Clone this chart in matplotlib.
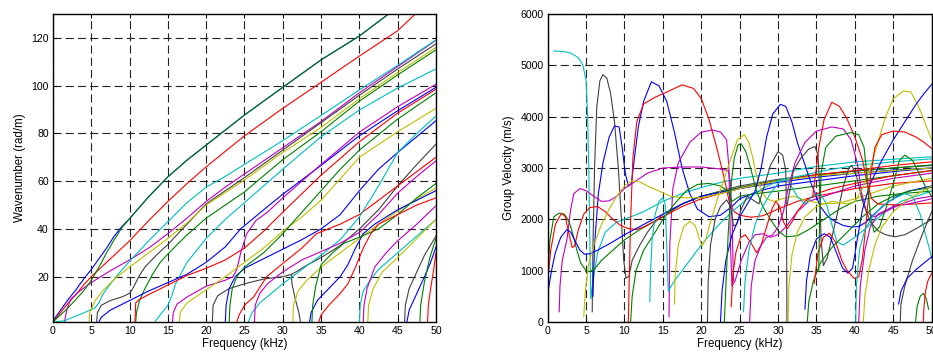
import numpy as np
import matplotlib
matplotlib.use("Agg")
from matplotlib import pyplot as plt

plt.rcParams['font.family'] = ['Liberation Sans', 'DejaVu Sans']
plt.rcParams['lines.scale_dashes'] = False

# colours of the curves (matlab-like)
C_BLUE, C_GREEN, C_RED = '#0000ff', '#008000', '#ff0000'
C_CYAN, C_MAG, C_YEL, C_GRAY = '#00bfbf', '#bf00bf', '#bfbf00', '#404040'

freq_ticks = [0, 5, 10, 15, 20, 25, 30, 35, 40, 45, 50]
k_ticks = [20, 40, 60, 80, 100, 120]
v_ticks = [0, 1000, 2000, 3000, 4000, 5000, 6000]

# ---- wavenumber curves (kHz, rad/m) ----
k_blue_1 = [(0, 1.5), (1, 6), (2, 10.5), (3, 14.5), (4, 19), (5, 23), (6, 27.5), (7, 32), (8, 37), (9, 41),
            (10, 44.3), (12.5, 53.5), (15, 61.8), (17.5, 68.8), (20, 75.1), (25, 87.7), (30, 99.3),
            (35, 110.8), (40, 120.8), (43.8, 130)]
k_green_1 = [(0, 1), (2, 7), (4, 14), (5, 18.5), (6, 24), (7, 30), (8, 35.5), (9, 40.5), (10, 44.3),
             (12.5, 53.5), (15, 61.8), (17.5, 68.8), (20, 75.1), (25, 87.7), (30, 99.3), (35, 110.8),
             (40, 120.8), (43.8, 130)]
k_red_1 = [(0, 1), (1, 5), (2, 9), (3, 12.5), (4, 16.5), (5, 20), (7, 26), (10, 35), (12.5, 43.5), (15, 51.5),
           (17.5, 59), (20, 66), (25, 79), (30, 90.5), (35, 101.4), (40, 112.4), (45, 123), (47.3, 130)]
k_mag_1 = [(1.5, 1), (1.8, 6), (2.3, 10.5), (3.5, 14), (5, 17.5), (7.5, 22.5), (10, 27), (12.5, 32), (15, 38),
           (17.5, 44.5), (20, 51.5), (22.5, 57.5), (25, 63), (30, 74), (35, 85), (40, 97), (45, 108), (50, 119)]
k_cyan_1 = [(0, 1), (1.5, 1.5), (3, 3.5), (4.5, 5.5), (5.5, 7), (6, 9), (6.5, 12.5), (7.5, 17), (8.5, 21),
            (10, 26.5), (12.5, 35), (15, 43), (17.5, 51), (20, 57.5), (22.5, 62), (25, 67), (30, 77),
            (35, 87.5), (40, 98.2), (45, 108.5), (50, 119.2)]
k_gray_1 = [(5.7, 1), (5.8, 5), (6.3, 8), (7.5, 10), (9, 11.5), (10, 13), (10.5, 15.5), (11.2, 20), (12, 24),
            (13.5, 29), (15, 33.5), (17.5, 42), (20, 50.5), (22.5, 56), (25, 61.5), (30, 73), (35, 84.5),
            (40, 96), (45, 107), (50, 117.5)]
k_yel_1 = [(4.7, 1), (4.8, 5), (5.5, 10), (6.5, 14), (8, 19), (10, 24), (12.5, 30), (15, 36), (17.5, 42.5),
           (20, 50), (25, 60.5), (30, 72), (35, 82.5), (40, 94.5), (45, 105.5), (50, 116)]
k_green_2 = [(10.8, 1), (10.9, 5), (11.3, 10), (12, 15), (13, 21), (14, 26), (15, 29.5), (17.5, 37.5),
             (20, 44.5), (22.5, 50), (25, 55.5), (30, 69), (35, 80.7), (40, 93.5), (45, 104.5), (50, 115)]
k_cyan_2 = [(13.3, 1), (14, 4), (15, 8), (15.5, 12), (16, 17), (16.5, 20), (17.5, 26), (20, 36), (22.5, 44),
            (25, 51), (30, 65), (35, 78.6), (40, 89.8), (45, 99), (50, 107)]
k_blue_2 = [(6, 1), (6.3, 3), (7.5, 6), (10, 10), (12.5, 14), (15, 17.5), (17.5, 21), (20, 26), (22.5, 32.5),
            (24.5, 40), (27.5, 48), (30, 54.5), (35, 66.6), (40, 79), (45, 89.5), (50, 99.3)]
k_red_2 = [(10.7, 1), (10.8, 9), (11.3, 10.5), (12.5, 12.5), (15, 16.5), (17.5, 20.5), (20, 23.5), (22.5, 27),
           (25, 32), (27.5, 39), (30, 47), (35, 62.5), (40, 76.5), (45, 88.5), (50, 98.5)]
k_mag_2 = [(15.6, 1), (15.7, 5), (16.2, 8.5), (17.5, 11.5), (20, 16), (22.5, 18.5), (23.5, 20), (24, 23),
           (24.5, 30), (25.3, 38), (26.5, 43.5), (28, 47), (30, 53), (35, 67), (40, 80.5), (45, 91.2), (50, 100.6)]
k_yel_2 = [(16.5, 1), (16.6, 5), (17.5, 9), (20, 14.5), (22.5, 20), (25, 26), (27.5, 32), (30, 39),
           (32.5, 45), (35, 52), (40, 70), (45, 80.7), (50, 90.5)]
k_gray_2 = [(20.8, 1), (20.9, 8), (21.5, 12), (23, 15), (25, 17), (27.5, 19), (30, 20), (31.2, 21), (33, 24.5),
            (35, 28), (37.5, 33), (40, 40), (42.5, 48), (45, 58), (47.5, 67), (50, 75.5)]
k_gray_3 = [(32.3, 1), (32.1, 5), (31.6, 11), (31.2, 17), (31.1, 21)]
k_blue_3 = [(22.5, 1), (22.6, 8), (23, 15), (23.8, 20), (25, 23.5), (27.5, 27.5), (30, 31.5), (32.5, 35.5),
            (35, 40), (37.5, 46), (40, 56), (42.5, 65), (45, 72), (50, 85.3)]
k_green_3 = [(23, 1), (23.1, 8), (23.4, 15), (24, 20), (25, 24), (27.5, 30), (30, 38), (32.5, 47), (35, 56),
             (37.5, 65), (40, 73), (45, 86), (50, 97)]
k_red_3 = [(24, 1), (24.3, 4), (25, 8), (26.2, 11.5), (27.9, 20), (30, 25.5), (32.5, 32), (34.4, 38),
           (37.5, 42), (40, 46), (42.5, 52), (45, 58), (47.5, 64), (50, 70)]
k_cyan_3 = [(25.5, 1), (26, 5), (27, 9), (28.5, 13), (30, 17), (32.5, 23), (35, 29), (37.5, 35.5), (40, 45),
            (42.5, 58), (45, 72), (47.5, 80), (50, 87.3)]
k_mag_3 = [(26.3, 1), (26.4, 8), (27, 13), (28, 17), (30, 22), (32.5, 27), (35, 30.5), (37.5, 34), (40, 38.5),
           (42.5, 46), (45, 55), (47.5, 62), (50, 68.5)]
k_yel_3 = [(31.3, 1), (31.4, 8), (32, 14), (33, 18), (35, 24), (37.5, 30), (40, 36), (42.5, 42), (45, 47.5),
           (47.5, 52.5), (50, 57)]
k_blue_4 = [(33.5, 1), (33.7, 5), (34.5, 10), (36, 15), (37.5, 20), (38.5, 25), (39.5, 32), (40.5, 38),
            (42, 42), (45, 48), (47.5, 52), (50, 56)]
k_green_4 = [(33.8, 1), (33.9, 8), (34.3, 16), (35, 25), (36.5, 30), (38, 34), (40, 36.5), (42.5, 40),
             (45, 46), (47.5, 53), (50, 59)]
k_red_4 = [(34.7, 1), (35, 4), (36, 8), (37.5, 13), (38.5, 17), (39.5, 24), (40.5, 32), (41.5, 38), (42.5, 42),
           (45, 46), (47.5, 50), (50, 53)]
k_cyan_4 = [(40, 1), (40.1, 8), (40.5, 14), (41.5, 19), (42.5, 23), (45, 30), (47.5, 37), (50, 44)]
k_mag_4 = [(40.5, 1), (40.6, 8), (41, 15), (42, 24), (43.5, 30), (45, 35), (47.5, 42), (50, 49.7)]
k_yel_4 = [(41.1, 1), (41.2, 8), (41.8, 15), (43, 22), (45, 28), (47.5, 36), (50, 44)]
k_gray_4 = [(45.9, 1), (46, 8), (46.5, 15), (47.5, 22), (48.5, 29), (50, 37)]
k_blue_5 = [(46.2, 1), (46.5, 6), (47.5, 13), (48.5, 20), (49.3, 26), (50, 32.4)]
k_green_5 = [(47.9, 1), (48, 8), (48.5, 18), (49.2, 28), (50, 36)]
k_red_5 = [(48.9, 1), (49, 8), (49.3, 15), (49.7, 23), (50, 30)]

# ---- group velocity curves (kHz, m/s) ----
v_cyan_1 = [(0.8, 5280), (2, 5270), (3, 5240), (4, 5150), (4.6, 5000), (5.0, 4700), (5.2, 4000), (5.35, 3000),
            (5.45, 2000), (5.55, 1000), (5.62, 450), (5.9, 800), (6.5, 1350), (7.5, 1750), (9, 1950),
            (10, 2000), (12.5, 2150), (15, 2350), (17.5, 2500), (20, 2620), (22.5, 2720), (25, 2800),
            (30, 2900), (35, 3030), (40, 3120), (45, 3170), (50, 3220)]
v_gray_1 = [(5.8, 200), (5.9, 1500), (6.1, 3000), (6.4, 4200), (6.8, 4700), (7.2, 4820), (7.7, 4750),
            (8.2, 4450), (8.7, 3900), (9.2, 3000), (9.6, 2000), (9.9, 1200), (10.2, 850), (10.6, 900),
            (11, 1200), (12, 1500), (13, 1750), (14, 1950), (15, 2100), (17.5, 2300), (20, 2450), (25, 2650),
            (30, 2780), (35, 2870), (40, 2940), (45, 3000), (50, 3050)]
v_blue_1 = [(5.9, 500), (6.1, 1500), (6.6, 2500), (7.2, 3100), (8, 3600), (8.7, 3820), (9.3, 3800),
            (9.7, 3400), (10.1, 2900), (10.5, 2650), (10.9, 2700), (11.3, 3200), (11.8, 3800), (12.5, 4300),
            (13.5, 4680), (14.5, 4600), (15.5, 4300), (16.5, 3700), (17.5, 3000), (18.5, 2500), (19.5, 2200),
            (21, 2050), (22.5, 2080), (24, 2250), (25, 2400), (27.5, 2550), (30, 2650), (35, 2750),
            (40, 2850), (45, 2930), (50, 3000)]
v_red_1 = [(10.5, 0), (10.6, 700), (10.8, 2000), (11.1, 3200), (11.6, 3900), (12.5, 4250), (14, 4380),
           (15.5, 4480), (17.5, 4620), (19, 4550), (20, 4350), (21, 3950), (22, 3400), (23, 2800),
           (23.7, 2300), (24.3, 2150), (25, 2080), (26.5, 2040), (28, 2070), (30, 2200), (32.5, 2350),
           (35, 2450), (40, 2600), (45, 2700), (50, 2750)]
v_mag_1 = [(15.8, 100), (15.9, 1500), (16.3, 2600), (17, 3100), (18.5, 3500), (20, 3700), (21.5, 3740),
           (22.5, 3700), (23.3, 3550), (23.6, 3000), (23.8, 1500), (24, 700), (24.4, 800), (25.2, 1200),
           (26.2, 1550), (27, 1700), (28, 1720), (29, 1650), (30, 1700), (31, 1850), (32.5, 2150), (34, 2350),
           (36, 2450), (38, 2550), (40, 2650), (45, 2800), (50, 2900)]
v_mag_2 = [(1.5, 200), (1.6, 700), (1.9, 1200), (2.5, 1600), (3, 2200), (3.4, 2500), (4.2, 2600), (5, 2560),
           (6, 2450), (7, 2350), (8, 2360), (9, 2450), (10, 2600), (11.5, 2750), (13, 2900), (15, 3000),
           (17.5, 3020), (20, 3020), (22.5, 2980), (23.5, 2950), (23.8, 2700), (24, 2100), (24.1, 1400),
           (24.2, 800)]
v_green_1 = [(0, 900), (0.3, 1600), (0.8, 2050), (1.5, 2120), (2.2, 2100), (2.8, 1950), (3.3, 1700),
             (3.8, 1400), (4.3, 1150), (5, 1000), (5.5, 980), (6.2, 1050), (7, 1200), (8.5, 1400), (10, 1600),
             (12, 1800), (15, 2050), (17.5, 2300), (20, 2450), (25, 2620), (30, 2760), (35, 2860), (40, 2940),
             (45, 3000), (50, 3060)]
v_red_2 = [(0, 800), (0.4, 1400), (1, 1900), (1.8, 2120), (2.3, 2050), (2.8, 1700), (3.2, 1450), (3.5, 1480),
           (4, 1800), (4.7, 2100), (5.5, 2230), (6.5, 2250), (7.5, 2150), (8.5, 2000), (9.5, 1880),
           (10.5, 1820), (11.5, 1800), (12.5, 1850), (15, 2050), (17.5, 2250), (20, 2400), (25, 2600),
           (30, 2750), (35, 2870), (40, 2950), (45, 3050), (50, 3120)]
v_blue_2 = [(0, 550), (0.5, 1000), (1, 1350), (1.7, 1650), (2.5, 1800), (3, 1750), (3.5, 1600), (4.2, 1400),
            (4.8, 1320), (5.5, 1330), (6.5, 1400), (8, 1520), (10, 1700), (12.5, 1900), (15, 2100),
            (17.5, 2300), (20, 2450), (25, 2600), (30, 2720), (35, 2820), (40, 2900), (45, 2960), (50, 3000)]
v_yel_1 = [(4.7, 100), (4.9, 600), (5.3, 1100), (6, 1500), (7, 1900), (8, 2200), (9, 2450), (10, 2650),
           (11, 2750), (12, 2730), (13, 2650), (14.5, 2550), (16, 2450), (17.5, 2420), (20, 2420), (22.5, 2500),
           (25, 2600), (30, 2750), (35, 2850), (40, 2900), (45, 2950), (50, 3000)]
v_green_2 = [(10.8, 0), (11, 500), (11.5, 1000), (12.5, 1400), (14, 1750), (15, 2000), (16.5, 2300),
             (18, 2550), (19.5, 2680), (21, 2700), (22.5, 2650), (23.5, 2550), (24, 2350), (25, 2450),
             (27, 2500), (30, 2550), (35, 2650), (40, 2750), (45, 2850), (50, 2950)]
v_cyan_2 = [(13.3, 400), (13.4, 1000), (13.6, 1600), (14, 2100), (14.5, 2350), (15, 2420), (15.3, 2300),
            (15.5, 1500), (15.7, 600), (16.5, 800), (18, 1100), (20, 1500), (22, 1850), (24, 2150),
            (26, 2400), (28, 2600), (30, 2750), (33, 2850), (36, 2950), (40, 3050), (45, 3120), (50, 3180)]
v_yel_2 = [(16.5, 350), (16.6, 900), (17, 1500), (17.7, 1850), (18.5, 1960), (19.2, 1880), (19.7, 1650),
           (20.1, 1480), (20.6, 1620), (21.2, 1950), (22, 2350), (23, 2800), (24, 3250), (24.7, 3550),
           (25.6, 3650), (26.2, 3500), (26.7, 3200), (27.2, 2850), (27.8, 2550), (28.5, 2400), (29.5, 2350),
           (30.5, 2400), (32, 2450), (34, 2350), (36, 2300), (38, 2320), (40, 2400), (42, 2500), (45, 2650),
           (50, 2800)]
v_gray_2 = [(20.8, 0), (20.9, 800), (21.2, 1500), (21.8, 2000), (22.5, 2250), (23.3, 2380), (23.8, 2250),
            (24.2, 1870), (24.6, 1900), (25.2, 2200), (26, 2450), (27, 2350), (27.5, 2300), (28.2, 2650),
            (29, 3050), (30, 3320), (30.6, 3250), (31, 2950), (31.1, 2000), (31.15, 0)]
v_blue_3 = [(22.5, 0), (22.7, 600), (23.2, 1200), (24, 1700), (25, 2050), (26, 2300), (27, 2550), (27.8, 3000),
            (28.5, 3600), (29.3, 4050), (30.3, 4240), (31, 4200), (31.8, 3900), (32.5, 3500), (33.3, 3150),
            (34.3, 2700), (35.5, 2250), (36.5, 2050), (37.5, 1950), (38.5, 1880), (39.5, 1850), (40.5, 1860),
            (41.5, 1950), (42.5, 2100), (44, 2300), (45.5, 2450), (47, 2550), (50, 2650)]
v_green_3 = [(23, 0), (23.2, 700), (23.5, 1700), (23.9, 2700), (24.3, 3200), (24.8, 3450), (25.2, 3470),
             (25.8, 3320), (26.5, 2950), (27.2, 2550), (28, 2250), (29, 2000), (30, 1780), (31, 1660),
             (32.5, 1680), (34, 1800), (36, 2000), (38, 2200), (40, 2350), (43, 2450), (46, 2500), (50, 2550)]
v_red_3 = [(23.9, 300), (24.1, 900), (24.5, 1350), (25.1, 1640), (25.7, 1700), (26.4, 1560), (27.2, 1350),
           (27.8, 1500), (28.5, 1850), (29.2, 2200), (29.7, 2350), (30.2, 2250), (30.7, 1950), (31.2, 1820),
           (31.8, 1950), (32.5, 2150), (33.5, 2350), (35, 2500), (37, 2600), (40, 2700), (45, 2850), (50, 2950)]
v_cyan_3 = [(25.5, 200), (25.7, 800), (26.2, 1400), (27, 1900), (28, 2250), (29, 2500), (30, 2700),
            (30.8, 2800), (31.5, 2700), (32.5, 2450), (33.5, 2300), (34.5, 2450), (35.5, 2500), (36.3, 2300),
            (37, 1900), (37.7, 1550), (38.5, 1500), (40, 1650), (42, 1900), (44, 2150), (46, 2350), (48, 2450),
            (50, 2550)]
v_mag_3 = [(26.3, 0), (26.5, 700), (27, 1200), (27.8, 1500), (28.5, 1650), (29.3, 1700), (30, 1850),
           (30.7, 2150), (31.3, 2600), (32.2, 3100), (33.5, 3500), (35, 3720), (37, 3800), (38.5, 3760),
           (39.5, 3550), (40.3, 3100), (40.9, 2500), (41.5, 2150), (42.5, 2050), (44, 2150), (46, 2300),
           (48, 2400), (50, 2450)]
v_gray_3 = [(31.2, 2300), (32, 2950), (33, 3200), (34, 3370), (34.8, 3420), (35.2, 3250), (35.4, 2600),
            (35.6, 1600), (35.9, 1100), (36.4, 1250), (37, 1650), (37.7, 2100), (38.5, 2650), (39.2, 3000),
            (39.6, 3050), (40.2, 2850), (41, 2350), (42, 1950), (43, 1780), (44, 1700), (45.2, 1660),
            (46.5, 1700), (48, 1820), (50, 2000)]
v_yel_3 = [(31.3, 0), (31.4, 700), (31.8, 1300), (32.5, 1750), (33.5, 2050), (35, 2250), (37, 2350),
           (39, 2300), (40, 2350), (41, 2600), (42, 3000), (43, 3500), (44, 4000), (45, 4350), (46.3, 4500),
           (47.3, 4480), (48.3, 4200), (49.2, 3850), (50, 3550)]
v_blue_4 = [(33.5, 250), (33.7, 800), (34.2, 1300), (35, 1620), (36, 1720), (36.8, 1650), (37.6, 1350),
            (38.4, 1050), (39.1, 950), (39.7, 1050), (40.3, 1600), (41, 2200), (42, 2700), (43.5, 3150),
            (45, 3550), (46.5, 3900), (48, 4250), (49, 4450), (50, 4630)]
v_green_4 = [(33.8, 0), (34, 400), (34.6, 800), (35.5, 1150), (37, 1450), (39, 1750), (41, 2050), (43, 2300),
             (45, 2450), (47, 2550), (50, 2620)]
v_red_4 = [(34.7, 750), (35.2, 1350), (35.9, 1650), (36.7, 1730), (37.5, 1550), (38.3, 1200), (39, 1000),
           (39.9, 850), (40.5, 880), (41, 1250), (41.5, 2000), (42, 2800), (42.6, 3400), (43.5, 3650),
           (45, 3720), (46.5, 3700), (48, 3600), (49, 3500), (50, 3380)]
v_red_5 = [(34.5, 2450), (34.9, 2900), (35.3, 3400), (36, 3950), (37, 4280), (38, 4200), (39, 3950),
           (40, 3600), (41, 3150), (41.6, 2700), (42.2, 2400), (43, 2300), (45, 2280), (48, 2300), (50, 2320)]
v_green_5 = [(35.3, 1000), (35.4, 2000), (35.6, 2900), (36.2, 3400), (37.5, 3620), (39.5, 3690), (40.5, 3650),
             (41.2, 3400), (41.6, 2800), (42, 2100), (42.5, 1750), (43.2, 1850), (44, 2200), (45, 2700),
             (45.8, 3150), (46.5, 3250), (47.5, 3150), (48.5, 2850), (49.3, 2600), (50, 2450)]
v_cyan_4 = [(40.1, 0), (40.2, 700), (40.6, 1400), (41.3, 1800), (42.3, 2050), (43.5, 2250), (45, 2400),
            (46.5, 2500), (47.5, 2450), (48.5, 2100), (49.3, 1650), (50, 1250)]
v_mag_4 = [(40.5, 0), (40.7, 700), (41.3, 1400), (42, 1850), (43, 2100), (45, 2250), (47, 2300), (50, 2400)]
v_yel_4 = [(41.1, 0), (41.3, 500), (41.8, 1000), (42.6, 1500), (43.5, 1850), (45, 2150), (47, 2400), (50, 2650)]
v_gray_4 = [(45.9, 0), (46, 350), (46.5, 700), (47.5, 1200), (48.5, 1600), (49.3, 1900), (50, 2150)]
v_blue_5 = [(45.7, 350), (46, 600), (46.8, 850), (47.8, 1000), (49, 1150), (50, 1270)]
v_green_6 = [(47.9, 0), (48.1, 300), (48.5, 500), (48.9, 560), (49.3, 450), (49.6, 250)]
v_red_6 = [(48.9, 0), (49, 300), (49.2, 600), (49.5, 800), (50, 950)]

left_curves = [
    (C_BLUE, k_blue_1), (C_RED, k_red_1), (C_MAG, k_mag_1), (C_CYAN, k_cyan_1), (C_GRAY, k_gray_1),
    (C_YEL, k_yel_1), (C_GREEN, k_green_2), (C_CYAN, k_cyan_2), (C_BLUE, k_blue_2), (C_RED, k_red_2),
    (C_MAG, k_mag_2), (C_YEL, k_yel_2), (C_GRAY, k_gray_2), (C_GRAY, k_gray_3), (C_BLUE, k_blue_3),
    (C_GREEN, k_green_3), (C_RED, k_red_3), (C_CYAN, k_cyan_3), (C_MAG, k_mag_3), (C_YEL, k_yel_3),
    (C_BLUE, k_blue_4), (C_GREEN, k_green_4), (C_RED, k_red_4), (C_CYAN, k_cyan_4), (C_MAG, k_mag_4),
    (C_YEL, k_yel_4), (C_GRAY, k_gray_4), (C_BLUE, k_blue_5), (C_GREEN, k_green_5), (C_RED, k_red_5),
    (C_GREEN, k_green_1),
]
right_curves = [
    (C_CYAN, v_cyan_1), (C_GRAY, v_gray_1), (C_BLUE, v_blue_1), (C_RED, v_red_1), (C_MAG, v_mag_1),
    (C_MAG, v_mag_2), (C_GREEN, v_green_1), (C_RED, v_red_2), (C_BLUE, v_blue_2), (C_YEL, v_yel_1),
    (C_GREEN, v_green_2), (C_CYAN, v_cyan_2), (C_YEL, v_yel_2), (C_GRAY, v_gray_2), (C_BLUE, v_blue_3),
    (C_GREEN, v_green_3), (C_RED, v_red_3), (C_CYAN, v_cyan_3), (C_MAG, v_mag_3), (C_GRAY, v_gray_3),
    (C_YEL, v_yel_3), (C_BLUE, v_blue_4), (C_GREEN, v_green_4), (C_RED, v_red_4), (C_RED, v_red_5),
    (C_GREEN, v_green_5), (C_CYAN, v_cyan_4), (C_MAG, v_mag_4), (C_YEL, v_yel_4), (C_GRAY, v_gray_4),
    (C_BLUE, v_blue_5), (C_GREEN, v_green_6), (C_RED, v_red_6),
]


def style_axes(ax, yticks, ylabel):
    ax.set_xlim(0, 50)
    ax.set_xticks(freq_ticks)
    ax.set_yticks(yticks)
    ax.set_axisbelow(True)
    ax.grid(True, color='#222222', linestyle=(0, (5.8, 3.0)), linewidth=0.8)
    ax.tick_params(direction='in', length=3, width=0.7, labelsize=7.6, pad=3,
                   top=True, right=True)
    for sp in ax.spines.values():
        sp.set_linewidth(1.0)
    ax.set_xlabel('Frequency (kHz)', fontsize=8.3, labelpad=1)
    ax.set_ylabel(ylabel, fontsize=8.3, labelpad=4)


fig = plt.figure(figsize=(9.33, 3.54), dpi=100)
ax1 = fig.add_axes([0.0568, 0.0904, 0.4105, 0.870])
ax2 = fig.add_axes([0.587, 0.0904, 0.4116, 0.870])

for col, pts in left_curves:
    f, k = np.array(pts).T
    ax1.plot(f, k, color=col, lw=0.8)
ax1.set_ylim(1, 130)
style_axes(ax1, k_ticks, 'Wavenumber (rad/m)')

for col, pts in right_curves:
    f, v = np.array(pts).T
    ax2.plot(f, v, color=col, lw=0.8)
ax2.set_ylim(0, 6000)
style_axes(ax2, v_ticks, 'Group Velocity (m/s)')

fig.savefig('out.png', dpi=100)
